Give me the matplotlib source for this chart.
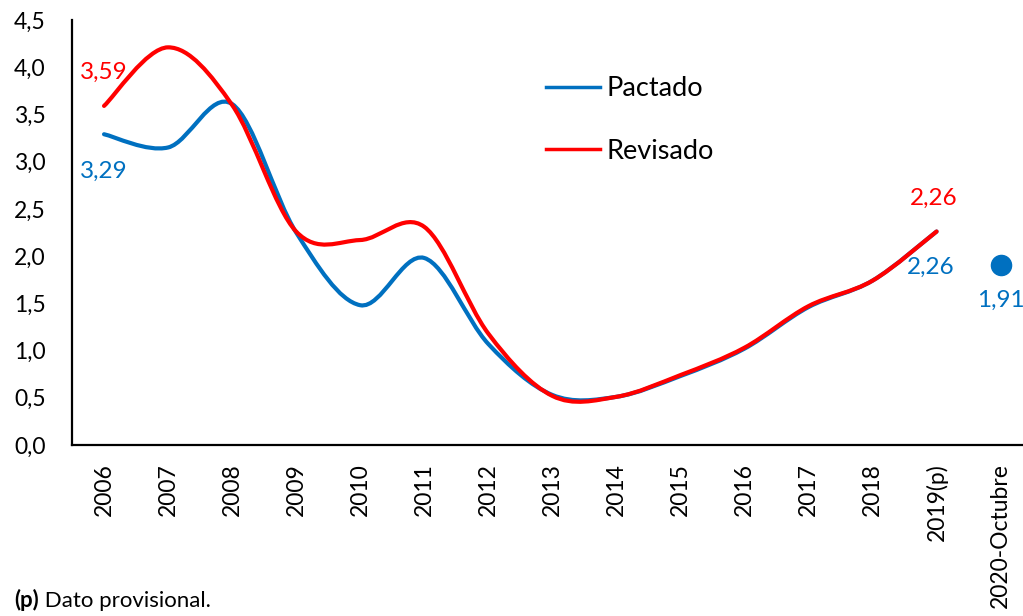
# Pactado vs Revisado, líneas suavizadas tipo Excel
import numpy as np
import matplotlib.pyplot as plt
from matplotlib.path import Path
from matplotlib.patches import PathPatch
from matplotlib.lines import Line2D
from matplotlib.ticker import FuncFormatter

plt.rcParams['font.family'] = ['Lato', 'DejaVu Sans']

categories = ['2006', '2007', '2008', '2009', '2010', '2011', '2012', '2013',
              '2014', '2015', '2016', '2017', '2018', '2019(p)', '2020-Octubre']
pactado = [3.29, 3.15, 3.61, 2.25, 1.48, 1.98, 1.07, 0.53, 0.51, 0.73,
           1.02, 1.46, 1.74, 2.26]
revisado = [3.59, 4.21, 3.60, 2.26, 2.17, 2.31, 1.18, 0.52, 0.51, 0.74,
            1.03, 1.47, 1.74, 2.26]
octubre_2020 = 1.91

BLUE = '#0070C0'
RED = '#FF0000'


def smooth_path(xs, ys):
    # curva Bezier por tramos (Catmull-Rom), como la línea suavizada de Excel
    pts = np.column_stack([xs, ys]).astype(float)
    n = len(pts)
    verts = [pts[0]]
    codes = [Path.MOVETO]
    for i in range(n - 1):
        p0 = pts[max(i - 1, 0)]
        p1 = pts[i]
        p2 = pts[i + 1]
        p3 = pts[min(i + 2, n - 1)]
        c1 = p1 + (p2 - p0) / 6.0
        c2 = p2 - (p3 - p1) / 6.0
        verts += [c1, c2, p2]
        codes += [Path.CURVE4] * 3
    return Path(verts, codes)


def fmt(v):
    return f'{v:.2f}'.replace('.', ',')


fig = plt.figure(figsize=(10.23, 6.16), dpi=100)
ax = fig.add_axes([0.0704, 0.2776, 0.939, 0.690])

x = np.arange(len(pactado))
ax.add_patch(PathPatch(smooth_path(x, pactado), facecolor='none',
                       edgecolor=BLUE, lw=3, capstyle='round', zorder=3))
ax.add_patch(PathPatch(smooth_path(x, revisado), facecolor='none',
                       edgecolor=RED, lw=3, capstyle='round', zorder=4))
ax.plot([len(categories) - 1], [octubre_2020], 'o', color=BLUE, ms=14.5, zorder=5)

# etiquetas de datos
lab = dict(textcoords='offset points', ha='center', va='center', fontsize=17.5)
ax.annotate(fmt(revisado[0]), (x[0], revisado[0]), xytext=(0, 24), color=RED, **lab)
ax.annotate(fmt(pactado[0]), (x[0], pactado[0]), xytext=(0, -27), color=BLUE, **lab)
ax.annotate(fmt(revisado[-1]), (x[-1], revisado[-1]), xytext=(-2, 24), color=RED, **lab)
ax.annotate(fmt(pactado[-1]), (x[-1], pactado[-1]), xytext=(-4, -26), color=BLUE, **lab)
ax.annotate(fmt(octubre_2020), (len(categories) - 1, octubre_2020), xytext=(0, -26),
            color=BLUE, **lab)

ax.set_xlim(-0.5, len(categories) - 0.5)
ax.set_ylim(0, 4.5)
ax.set_yticks(np.arange(0, 4.51, 0.5))
ax.yaxis.set_major_formatter(FuncFormatter(lambda v, p: f'{v:.1f}'.replace('.', ',')))
ax.set_xticks(range(len(categories)))
ax.set_xticklabels(categories, rotation=90, va='top', ha='center')
ax.tick_params(axis='y', length=0, pad=19, labelsize=16.5)
ax.tick_params(axis='x', length=0, pad=13, labelsize=16.5)
for s in ['top', 'right']:
    ax.spines[s].set_visible(False)
for s in ['left', 'bottom']:
    ax.spines[s].set_linewidth(1.6)
    ax.spines[s].set_color('black')

handles = [Line2D([], [], color=BLUE, lw=2.5), Line2D([], [], color=RED, lw=2.5)]
ax.legend(handles, ['Pactado', 'Revisado'], loc='center left',
          bbox_to_anchor=(546 / 1023, 1 - 120 / 616), bbox_transform=fig.transFigure,
          frameon=False, fontsize=19.5, handlelength=2.0, handletextpad=0.25,
          labelspacing=1.38, borderpad=0, borderaxespad=0)

t1 = fig.text(14 / 1023, 1 - 607 / 616, '(p)', fontsize=16, fontweight='bold',
              va='baseline', ha='left')
ax.annotate(' Dato provisional.', xy=(1, 0), xycoords=t1, va='bottom', ha='left',
            fontsize=16)

fig.savefig('out.png', dpi=100)
